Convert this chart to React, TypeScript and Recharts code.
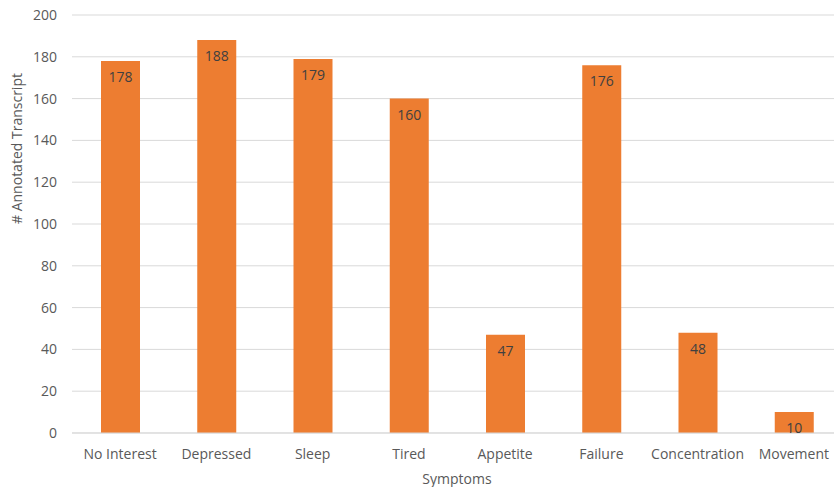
import React from 'react';
import { BarChart, Bar, XAxis, YAxis, CartesianGrid, LabelList } from 'recharts';

const symptoms = ['No Interest', 'Depressed', 'Sleep', 'Tired', 'Appetite', 'Failure', 'Concentration', 'Movement'];
const transcripts = [178, 188, 179, 160, 47, 176, 48, 10];
const yTicks = [0, 20, 40, 60, 80, 100, 120, 140, 160, 180, 200];

const data = symptoms.map((name, i) => ({ name, count: transcripts[i] }));

const font = '"Open Sans", "Noto Sans", sans-serif';
const textColor = '#595959';

const App: React.FC = () => {
  return (
    <div style={{ position: 'absolute', left: 0, top: 0, width: 834, height: 487, overflow: 'hidden', background: '#fff' }}>
      <BarChart
        width={842}
        height={487}
        data={data}
        margin={{ top: 15, right: 0, left: 0, bottom: 0 }}
        barSize={39}
      >
        <CartesianGrid vertical={false} stroke="#d9d9d9" />
        <XAxis
          dataKey="name"
          height={54}
          tickLine={false}
          tickSize={0}
          tickMargin={16}
          axisLine={{ stroke: '#d9d9d9' }}
          tick={{ fill: textColor, fontSize: 14, fontFamily: font }}
          interval={0}
          label={{ value: 'Symptoms', position: 'insideBottom', offset: 3, fill: textColor, fontSize: 14, fontFamily: font }}
        />
        <YAxis
          width={72}
          domain={[0, 200]}
          ticks={yTicks}
          tickLine={false}
          tickSize={0}
          tickMargin={15}
          axisLine={false}
          tick={{ fill: textColor, fontSize: 14, fontFamily: font }}
          label={{ value: '# Annotated Transcript', angle: -90, position: 'insideLeft', offset: 0, dx: 17, fill: textColor, fontSize: 14, fontFamily: font }}
        />
        <Bar dataKey="count" fill="#ED7D31" isAnimationActive={false}>
          <LabelList dataKey="count" position="insideTop" offset={11} fill="#404040" fontSize={14} fontFamily={font} />
        </Bar>
      </BarChart>
    </div>
  );
};

export default App;
